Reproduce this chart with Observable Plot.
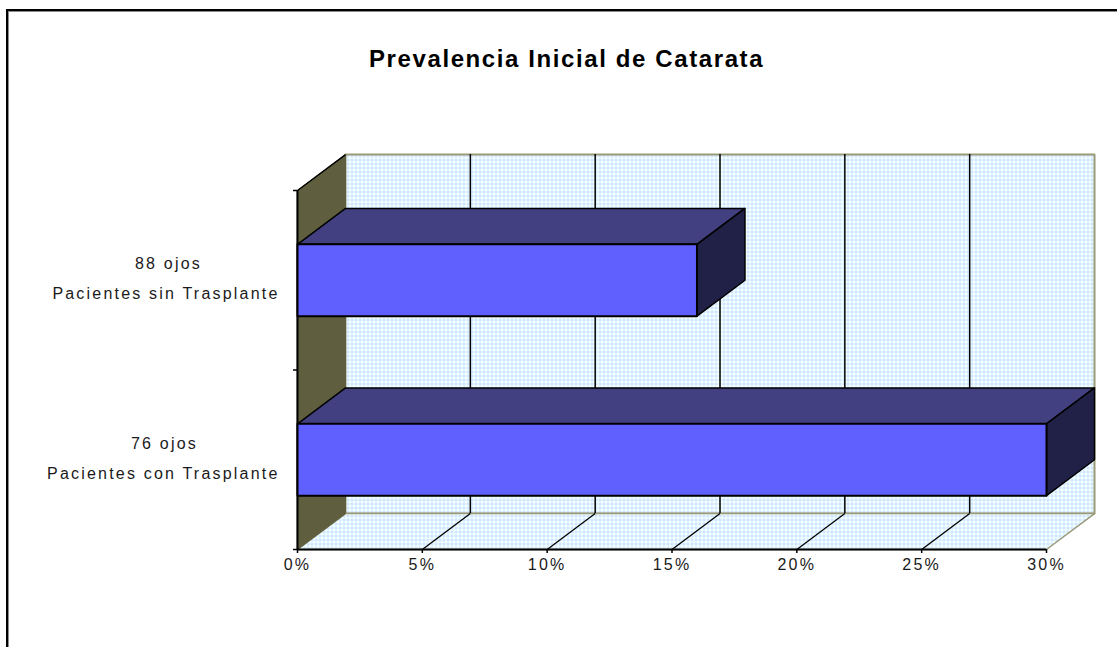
<!DOCTYPE html>
<html lang="es">
<head>
<meta charset="utf-8">
<title>Prevalencia Inicial de Catarata</title>
<script src="https://cdn.jsdelivr.net/npm/d3@7"></script>
<script src="https://cdn.jsdelivr.net/npm/@observablehq/plot@0.6"></script>
<style>
  html, body { margin: 0; padding: 0; background: #fff; overflow: hidden; }
  #sheet { position: relative; width: 1117px; height: 647px; overflow: hidden; }
  #sheet svg { position: absolute; left: 0; top: 0; }
  #border { position: absolute; left: 6px; top: 9px; right: -4px; bottom: -4px;
            border-left: 2px solid #000; border-top: 2px solid #000;
            box-shadow: inset 1px 1px 0 #8c8c8c; }
  #heading { position: absolute; left: 369px; top: 45px; white-space: nowrap;
             font: bold 24px "Liberation Sans", Arial, sans-serif; letter-spacing: 1.6px; color: #000; }
</style>
</head>
<body>
<div id="sheet">
  <div id="border"></div>
  <div id="heading">Prevalencia Inicial de Catarata</div>
</div>
<script>
// Prevalence values, bottom group first
const counts = ["76 ojos", "88 ojos"];
const groups = ["Pacientes con Trasplante", "Pacientes sin Trasplante"];
const prevalence = [30, 16];
const xTicks = [0, 5, 10, 15, 20, 25, 30];
const gridTicks = [5, 10, 15, 20, 25];

// Oblique projection of the depth axis, in scale units
const depthX = 1.923;
const depthY = 0.2;
const barHalf = 0.2;
const xMax = 30;
const yMax = 2;

const bars = prevalence.map((value, i) => ({
  value, centre: i + 0.5, count: counts[i], group: groups[i]
}));

// A closed polygon drawn through the x and y scales
const face = (points, fill, stroke, strokeWidth = 1.5) =>
  Plot.line(points, {x: "0", y: "1", fill, stroke, strokeWidth, curve: "linear-closed"});

const barMarks = [...bars].reverse().flatMap(({value, centre}) => {
  const y0 = centre - barHalf, y1 = centre + barHalf;
  return [
    face([[0, y1], [value, y1], [value + depthX, y1 + depthY], [depthX, y1 + depthY]], "#424080", "#000"),
    face([[value, y0], [value, y1], [value + depthX, y1 + depthY], [value + depthX, y0 + depthY]], "#212147", "#000"),
    face([[0, y0], [value, y0], [value, y1], [0, y1]], "#6060ff", "#000", 2)
  ];
});

// Two-line category labels; the short line sits over the middle of the long one
const labelMarks = bars.flatMap((d, i) => [
  Plot.text([d], {x: () => 0, y: "centre", text: "count", dx: -133 + 4 * i, dy: -16, textAnchor: "middle", fontSize: 16, fill: "#1a1a1a"}),
  Plot.text([d], {x: () => 0, y: "centre", text: "group", dx: -18, dy: 14, textAnchor: "end", fontSize: 16, fill: "#1a1a1a"})
]);

// Dither used on the back wall and the floor
const dither = () => {
  const ns = "http://www.w3.org/2000/svg";
  const defs = document.createElementNS(ns, "defs");
  const pattern = document.createElementNS(ns, "pattern");
  pattern.setAttribute("id", "dither");
  pattern.setAttribute("width", 4);
  pattern.setAttribute("height", 4);
  pattern.setAttribute("patternUnits", "userSpaceOnUse");
  for (const [x, y, w, h, fill] of [
    [0, 0, 4, 4, "#c8eeff"],
    [0, 0, 3, 3, "#f8fdff"],
    [3, 3, 1, 1, "#c8b8ff"]
  ]) {
    const r = document.createElementNS(ns, "rect");
    for (const [k, v] of Object.entries({x, y, width: w, height: h, fill})) r.setAttribute(k, v);
    pattern.appendChild(r);
  }
  defs.appendChild(pattern);
  return defs;
};

const chart = Plot.plot({
  width: 1117,
  height: 647,
  marginLeft: 297,
  marginRight: 71,
  marginTop: 190,
  marginBottom: 98,
  style: {background: "transparent", fontFamily: "'Liberation Sans', Arial, sans-serif", letterSpacing: "2.2px", color: "#1a1a1a"},
  x: {domain: [0, xMax]},
  y: {domain: [0, yMax]},
  marks: [
    dither,
    // back wall
    face([[depthX, depthY], [xMax + depthX, depthY], [xMax + depthX, yMax + depthY], [depthX, yMax + depthY]], "url(#dither)", "#9a9a78", 2),
    // floor
    face([[0, 0], [xMax, 0], [xMax + depthX, depthY], [depthX, depthY]], "url(#dither)", "#9a9a78", 1.5),
    // side wall
    face([[0, 0], [depthX, depthY], [depthX, yMax + depthY], [0, yMax]], "#5f5f3f", "#5f5f3f", 1),
    Plot.link([0], {x1: () => 0, y1: () => yMax, x2: () => depthX, y2: () => yMax + depthY, stroke: "#000", strokeWidth: 1.5}),
    // gridlines on the wall and their feet on the floor
    Plot.ruleX(gridTicks, {x: (d) => d + depthX, y1: depthY, y2: yMax + depthY, stroke: "#000", strokeWidth: 1.5}),
    Plot.link(gridTicks, {x1: (d) => d, y1: () => 0, x2: (d) => d + depthX, y2: () => depthY, stroke: "#000", strokeWidth: 1.3}),
    // axes
    Plot.ruleY([0], {stroke: "#000", strokeWidth: 2}),
    Plot.ruleX([0], {y1: 0, y2: yMax, stroke: "#000", strokeWidth: 2}),
    Plot.axisX({ticks: xTicks, tickFormat: (d) => `${d}%`, tickSize: 4, tickPadding: 5, fontSize: 16, label: null, stroke: "#000", strokeWidth: 1.5, textStroke: "none"}),
    Plot.axisY({ticks: [0, 1, 2], tickFormat: () => "", tickSize: 4, label: null, stroke: "#000", strokeWidth: 1.5}),
    ...barMarks,
    ...labelMarks
  ]
});

document.getElementById("sheet").prepend(chart);
</script>
</body>
</html>
